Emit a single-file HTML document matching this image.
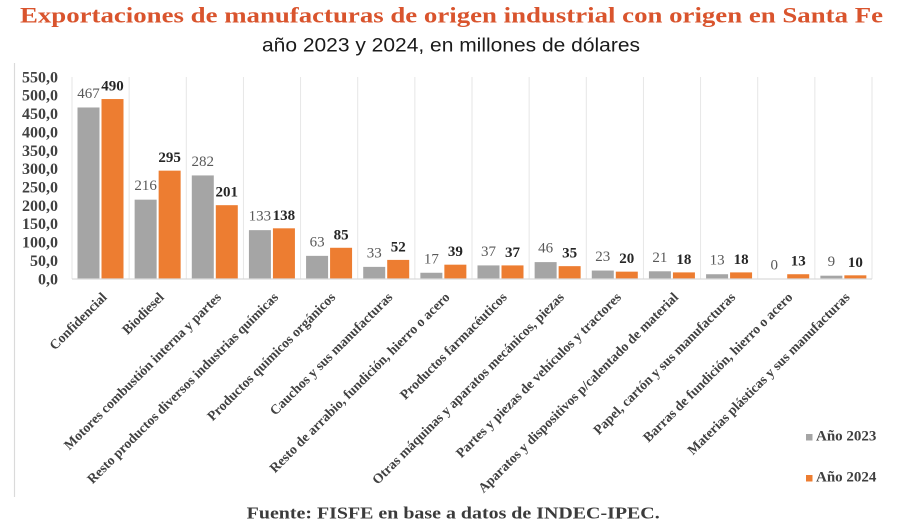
<!DOCTYPE html>
<html>
<head>
<meta charset="utf-8">
<style>
  html, body { margin: 0; padding: 0; background: #ffffff; }
  svg { display: block; }
  .ser { font-family: "Liberation Serif", "DejaVu Serif", serif; }
  .san { font-family: "Liberation Sans", "DejaVu Sans", sans-serif; }
  .yl { font-family: "Liberation Serif", serif; font-weight: bold; font-size: 16px; fill: #404040; }
  .g23 { font-family: "Liberation Serif", serif; font-size: 15px; fill: #595959; }
  .g24 { font-family: "Liberation Serif", serif; font-weight: bold; font-size: 15px; fill: #262626; }
  .xl { font-family: "Liberation Serif", serif; font-weight: bold; font-size: 13.7px; fill: #404040; }
</style>
</head>
<body>
<svg width="900" height="530" viewBox="0 0 900 530" xmlns="http://www.w3.org/2000/svg">
  <rect x="0" y="0" width="900" height="530" fill="#ffffff"/>

  <!-- Title -->
  <text x="20" y="22.7" class="ser" font-weight="bold" font-size="22" fill="#d9542d" textLength="863" lengthAdjust="spacingAndGlyphs">Exportaciones de manufacturas de origen industrial con origen en Santa Fe</text>
  <text x="262" y="51.7" class="san" font-size="19" fill="#1a1a1a" textLength="378" lengthAdjust="spacingAndGlyphs">año 2023 y 2024, en millones de dólares</text>

  <!-- chart frame left edge -->
  <line x1="14.5" y1="63" x2="14.5" y2="497" stroke="#dadada" stroke-width="1.2"/>

  <!-- vertical gridlines -->
  <g stroke="#e6e6e6" stroke-width="1">
    <line x1="72" y1="77" x2="72" y2="279"/>
    <line x1="129.14" y1="77" x2="129.14" y2="279"/>
    <line x1="186.29" y1="77" x2="186.29" y2="279"/>
    <line x1="243.43" y1="77" x2="243.43" y2="279"/>
    <line x1="300.57" y1="77" x2="300.57" y2="279"/>
    <line x1="357.71" y1="77" x2="357.71" y2="279"/>
    <line x1="414.86" y1="77" x2="414.86" y2="279"/>
    <line x1="472" y1="77" x2="472" y2="279"/>
    <line x1="529.14" y1="77" x2="529.14" y2="279"/>
    <line x1="586.29" y1="77" x2="586.29" y2="279"/>
    <line x1="643.43" y1="77" x2="643.43" y2="279"/>
    <line x1="700.57" y1="77" x2="700.57" y2="279"/>
    <line x1="757.71" y1="77" x2="757.71" y2="279"/>
    <line x1="814.86" y1="77" x2="814.86" y2="279"/>
    <line x1="872" y1="77" x2="872" y2="279"/>
  </g>

  <!-- Y axis labels -->
  <g class="yl" text-anchor="end">
    <text x="58" y="82.3">550,0</text>
    <text x="58" y="100.7">500,0</text>
    <text x="58" y="119.0">450,0</text>
    <text x="58" y="137.4">400,0</text>
    <text x="58" y="155.8">350,0</text>
    <text x="58" y="174.1">300,0</text>
    <text x="58" y="192.5">250,0</text>
    <text x="58" y="210.8">200,0</text>
    <text x="58" y="229.2">150,0</text>
    <text x="58" y="247.6">100,0</text>
    <text x="58" y="265.9">50,0</text>
    <text x="58" y="284.3">0,0</text>
  </g>

  <!-- Bars 2023 -->
  <g fill="#a5a5a5">
    <rect x="77.5" y="107.48" width="22" height="171.52"/>
    <rect x="134.64" y="199.67" width="22" height="79.33"/>
    <rect x="191.79" y="175.43" width="22" height="103.57"/>
    <rect x="248.93" y="230.15" width="22" height="48.85"/>
    <rect x="306.07" y="255.86" width="22" height="23.14"/>
    <rect x="363.21" y="266.88" width="22" height="12.12"/>
    <rect x="420.36" y="272.76" width="22" height="6.24"/>
    <rect x="477.5" y="265.41" width="22" height="13.59"/>
    <rect x="534.64" y="262.11" width="22" height="16.89"/>
    <rect x="591.79" y="270.55" width="22" height="8.45"/>
    <rect x="648.93" y="271.29" width="22" height="7.71"/>
    <rect x="706.07" y="274.23" width="22" height="4.77"/>
    <rect x="820.36" y="275.69" width="22" height="3.31"/>
  </g>

  <!-- Bars 2024 -->
  <g fill="#ed7d31">
    <rect x="101.5" y="99.04" width="22" height="179.96"/>
    <rect x="158.64" y="170.65" width="22" height="108.35"/>
    <rect x="215.79" y="205.18" width="22" height="73.82"/>
    <rect x="272.93" y="228.32" width="22" height="50.68"/>
    <rect x="330.07" y="247.78" width="22" height="31.22"/>
    <rect x="387.21" y="259.90" width="22" height="19.10"/>
    <rect x="444.36" y="264.68" width="22" height="14.32"/>
    <rect x="501.5" y="265.41" width="22" height="13.59"/>
    <rect x="558.64" y="266.15" width="22" height="12.85"/>
    <rect x="615.79" y="271.65" width="22" height="7.35"/>
    <rect x="672.93" y="272.39" width="22" height="6.61"/>
    <rect x="730.07" y="272.39" width="22" height="6.61"/>
    <rect x="787.21" y="274.23" width="22" height="4.77"/>
    <rect x="844.36" y="275.33" width="22" height="3.67"/>
  </g>

  <!-- baseline -->
  <line x1="72" y1="279" x2="872" y2="279" stroke="#d9d9d9" stroke-width="1.2"/>

  <!-- Data labels 2023 -->
  <g class="g23" text-anchor="middle">
    <text x="88.5" y="97.98">467</text>
    <text x="145.64" y="190.17">216</text>
    <text x="202.79" y="165.93">282</text>
    <text x="259.93" y="220.65">133</text>
    <text x="317.07" y="246.36">63</text>
    <text x="374.21" y="257.38">33</text>
    <text x="431.36" y="263.26">17</text>
    <text x="488.5" y="255.91">37</text>
    <text x="545.64" y="252.61">46</text>
    <text x="602.79" y="261.05">23</text>
    <text x="659.93" y="261.79">21</text>
    <text x="717.07" y="264.73">13</text>
    <text x="774.21" y="269.5">0</text>
    <text x="831.36" y="266.19">9</text>
  </g>

  <!-- Data labels 2024 -->
  <g class="g24" text-anchor="middle">
    <text x="112.5" y="90.54">490</text>
    <text x="169.64" y="162.15">295</text>
    <text x="226.79" y="196.68">201</text>
    <text x="283.93" y="219.82">138</text>
    <text x="341.07" y="239.28">85</text>
    <text x="398.21" y="251.4">52</text>
    <text x="455.36" y="256.18">39</text>
    <text x="512.5" y="256.91">37</text>
    <text x="569.64" y="257.65">35</text>
    <text x="626.79" y="263.15">20</text>
    <text x="683.93" y="263.89">18</text>
    <text x="741.07" y="263.89">18</text>
    <text x="798.21" y="265.73">13</text>
    <text x="855.36" y="266.83">10</text>
  </g>

  <!-- X axis labels (rotated -45) -->
  <g class="xl" text-anchor="end">
    <text transform="translate(107.6,298) rotate(-45)">Confidencial</text>
    <text transform="translate(164.74,298) rotate(-45)">Biodiesel</text>
    <text transform="translate(221.89,298) rotate(-45)">Motores combustión interna y partes</text>
    <text transform="translate(279.03,298) rotate(-45)">Resto productos diversos industrias químicas</text>
    <text transform="translate(336.17,298) rotate(-45)">Productos químicos orgánicos</text>
    <text transform="translate(393.31,298) rotate(-45)">Cauchos y sus manufacturas</text>
    <text transform="translate(450.46,298) rotate(-45)">Resto de arrabio, fundición, hierro o acero</text>
    <text transform="translate(507.6,298) rotate(-45)">Productos farmacéuticos</text>
    <text transform="translate(564.74,298) rotate(-45)">Otras máquinas y aparatos mecánicos, piezas</text>
    <text transform="translate(621.89,298) rotate(-45)">Partes y piezas de vehículos y tractores</text>
    <text transform="translate(679.03,298) rotate(-45)">Aparatos y dispositivos p/calentado de material</text>
    <text transform="translate(736.17,298) rotate(-45)">Papel, cartón y sus manufacturas</text>
    <text transform="translate(793.31,298) rotate(-45)">Barras de fundición, hierro o acero</text>
    <text transform="translate(850.46,298) rotate(-45)">Materias plásticas y sus manufacturas</text>
  </g>

  <!-- Legend -->
  <rect x="806" y="434" width="6.5" height="6.5" fill="#a5a5a5"/>
  <text x="816" y="440.7" class="ser" font-weight="bold" font-size="15" fill="#404040">Año 2023</text>
  <rect x="806" y="475" width="6.5" height="6.5" fill="#ed7d31"/>
  <text x="816" y="481.7" class="ser" font-weight="bold" font-size="15" fill="#404040">Año 2024</text>

  <!-- Footer -->
  <text x="246.7" y="518.3" class="ser" font-weight="bold" font-size="17" fill="#3b3b3b" textLength="413" lengthAdjust="spacingAndGlyphs">Fuente: FISFE en base a datos de INDEC-IPEC.</text>
</svg>
</body>
</html>
